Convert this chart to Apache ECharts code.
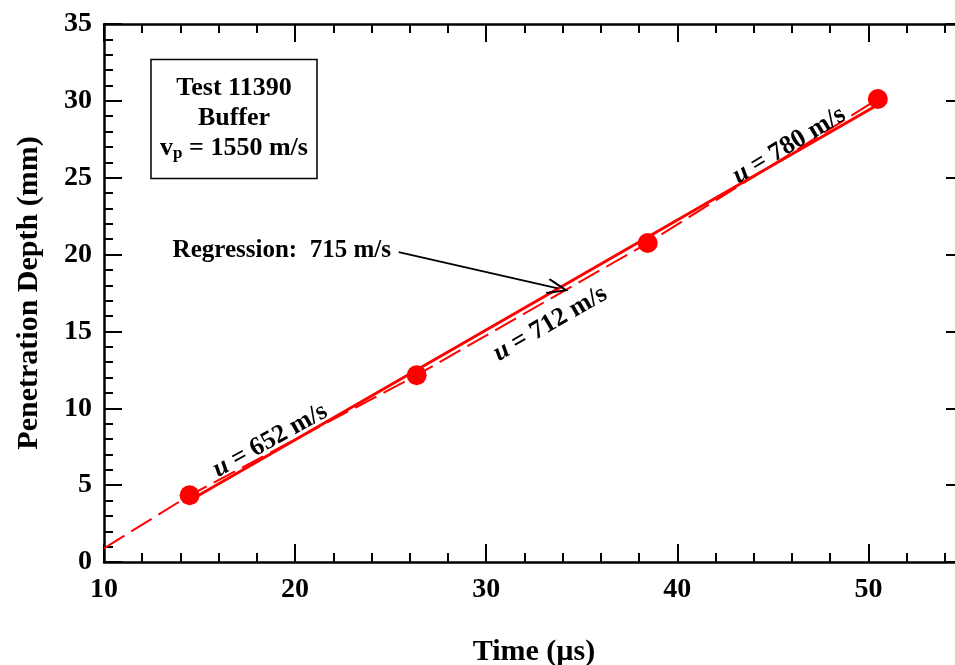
<!DOCTYPE html>
<html>
<head>
<meta charset="utf-8">
<script src="https://cdn.jsdelivr.net/npm/echarts@6/dist/echarts.min.js"></script>
<style>
  html, body { margin: 0; padding: 0; background: #fff; }
  #grafica { width: 955px; height: 665px; }
</style>
</head>
<body>
<div id="grafica"></div>
<script>
// measured points (time in us, depth in mm)
const timeUs = [14.48, 26.36, 38.45, 50.49];
const depthMm = [4.34, 12.15, 20.75, 30.12];
// dashed piecewise line starts at the y axis
const startX = 10;
const startY = 0.89;
// regression line ends
const regX = [14.48, 50.49];
const regY = [4.0, 29.75];
// segment velocity labels
const segVel = ["652", "712", "780"];
const segLabelX = [18.7, 33.35, 45.85];
const segLabelY = [7.9, 15.5, 27.1];
const segLabelRot = [29, 30, 31];
// arrow for regression note
const arrowFrom = [25.42, 20.16];
const arrowTo = [33.75, 17.8];
const regText = "Regression:  715 m/s";

const xMin = 10, xMax = 55, yMin = 0, yMax = 35;

const font = "'Liberation Serif', 'Times New Roman', serif";
const red = "#ff0000";

const axisLine = { show: true, lineStyle: { color: "#000", width: 2.5 } };

const xMajor = (pos, labels) => ({
  type: "value", position: pos, min: xMin, max: xMax, interval: 10,
  axisLine: axisLine,
  axisTick: { show: true, inside: true, length: 18, lineStyle: { color: "#000", width: 2 } },
  splitLine: { show: false },
  axisLabel: {
    show: labels, margin: 14, showMaxLabel: false,
    color: "#000", fontFamily: font, fontWeight: "bold", fontSize: 28,
  },
  name: labels ? "Time (\u00b5s)" : "",
  nameLocation: "middle", nameGap: 75,
  nameTextStyle: { color: "#000", fontFamily: font, fontWeight: "bold", fontSize: 30 },
});
const xMinor = (pos) => ({
  type: "value", position: pos, min: xMin, max: xMax, interval: 2,
  axisLine: { show: false },
  axisTick: { show: true, inside: true, length: 9, lineStyle: { color: "#000", width: 2 } },
  splitLine: { show: false },
  axisLabel: { show: false },
});
const yAxisOf = (pos, labels) => ({
  type: "value", position: pos, min: yMin, max: yMax, interval: 5,
  axisLine: axisLine,
  axisTick: { show: true, inside: true, length: 18, lineStyle: { color: "#000", width: 2 } },
  minorTick: { show: true, splitNumber: 5, length: 9, lineStyle: { color: "#000", width: 2 } },
  splitLine: { show: false },
  minorSplitLine: { show: false },
  axisLabel: {
    show: labels, margin: 12,
    color: "#000", fontFamily: font, fontWeight: "bold", fontSize: 28,
  },
  name: labels ? "Penetration Depth (mm)" : "",
  nameLocation: "middle", nameGap: 60,
  nameTextStyle: { color: "#000", fontFamily: font, fontWeight: "bold", fontSize: 30 },
});

const getOptionChart = () => {
  return {
    backgroundColor: "#fff",
    animation: false,
    grid: { left: 104, top: 24, width: 860, bottom: 103, containLabel: false, outerBoundsMode: "none" },
    xAxis: [xMajor("bottom", true), xMinor("bottom"), xMajor("top", false), xMinor("top")],
    yAxis: [yAxisOf("left", true), yAxisOf("right", false)],
    graphic: [
      {
        type: "rect",
        shape: { x: 151, y: 59.5, width: 166, height: 119 },
        style: { fill: "#fff", stroke: "#000", lineWidth: 1.5 },
      },
      {
        type: "text",
        x: 234, y: 118,
        style: {
          text: "{a|Test 11390}\n{a|Buffer}\n{a|v}{s|p}{a| = 1550 m/s}",
          align: "center", verticalAlign: "middle",
          rich: {
            a: { fontFamily: font, fontWeight: "bold", fontSize: 26, lineHeight: 30, fill: "#000" },
            s: { fontFamily: font, fontWeight: "bold", fontSize: 17, lineHeight: 30, fill: "#000", padding: [12, 0, 0, 0] },
          },
        },
      },
    ],
    series: [
      {
        name: "segments",
        type: "line",
        data: [[startX, startY]].concat(timeUs.map((t, i) => [t, depthMm[i]])),
        showSymbol: false,
        symbol: "none",
        lineStyle: { color: red, width: 2, type: [24, 8] },
        z: 2,
      },
      {
        name: "regression",
        type: "line",
        data: regX.map((t, i) => [t, regY[i]]),
        showSymbol: false,
        symbol: "none",
        lineStyle: { color: red, width: 3 },
        z: 3,
        markLine: {
          silent: true,
          symbol: ["none", "path://M5,0 L10,10 L8.9,10.7 L5,2.6 L1.1,10.7 L0,10 Z"],
          symbolSize: [16, 22],
          lineStyle: { color: "#000", width: 2, type: "solid" },
          label: {
            show: true, position: "start", distance: 8,
            formatter: regText,
            color: "#000", fontFamily: font, fontWeight: "bold", fontSize: 25,
          },
          data: [[{ coord: arrowFrom }, { coord: arrowTo }]],
        },
      },
      {
        name: "points",
        type: "scatter",
        data: timeUs.map((t, i) => [t, depthMm[i]]),
        symbol: "circle",
        symbolSize: 20,
        itemStyle: { color: red, opacity: 1 },
        z: 5,
      },
      {
        name: "labels",
        type: "scatter",
        data: segVel.map((v, i) => ({
          value: [segLabelX[i], segLabelY[i], v],
          label: { rotate: segLabelRot[i] },
        })),
        symbolSize: 0,
        itemStyle: { opacity: 1 },
        z: 6,
        label: {
          show: true,
          position: "inside",
          formatter: (p) => "{i|u}{b| = " + p.value[2] + " m/s}",
          rich: {
            i: { fontFamily: font, fontWeight: "bold", fontStyle: "italic", fontSize: 26, color: "#000" },
            b: { fontFamily: font, fontWeight: "bold", fontSize: 26, color: "#000" },
          },
        },
      },
    ],
  };
};

const initCharts = () => {
  const chart = echarts.init(document.querySelector("#grafica"));
  chart.setOption(getOptionChart());
};

initCharts();
</script>
</body>
</html>
